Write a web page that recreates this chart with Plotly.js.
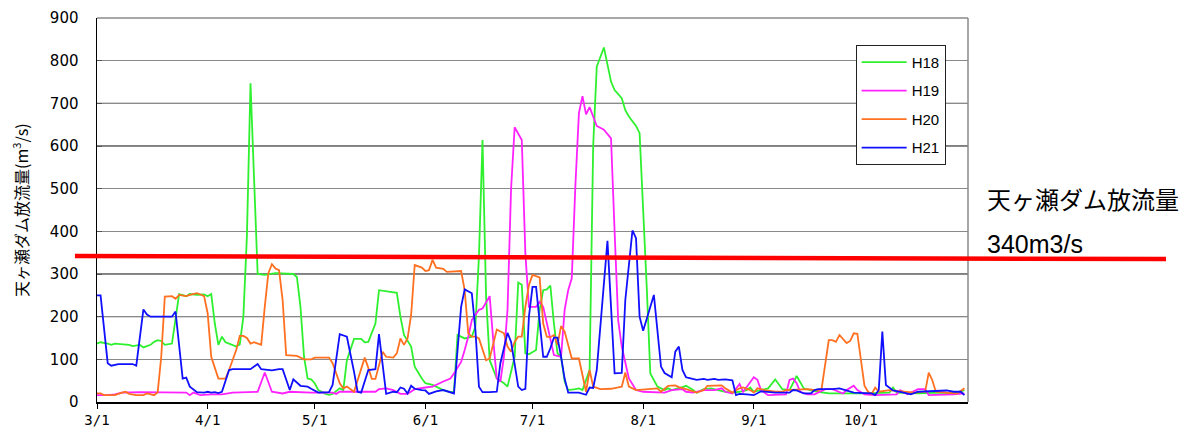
<!DOCTYPE html>
<html><head><meta charset="utf-8">
<script src="https://cdn.plot.ly/plotly-3.0.1.min.js"></script>
<style>html,body{margin:0;padding:0;background:#fff}#chart{width:1194px;height:437px}</style>
</head><body><div id="chart"></div>
<script>
const YEAR = 2006;
const seriesNames = ["H18", "H19", "H20", "H21"];
const seriesColors = ["#2ef02e", "#ff22ff", "#ff7020", "#1010ff"];

const h18Dates = ["3/1","3/2","3/4","3/5","3/6","3/8","3/10","3/11","3/13","3/14","3/16","3/17","3/18","3/19","3/20","3/22","3/23","3/24","3/26","3/27","3/29","3/31","4/1","4/2","4/3","4/4","4/5","4/6","4/7","4/9","4/10","4/11","4/12","4/13","4/15","4/17","4/20","4/25","4/26","4/27","4/28","4/29","4/30","5/1","5/2","5/4","5/5","5/6","5/8","5/9","5/10","5/11","5/12","5/14","5/15","5/16","5/18","5/19","5/21","5/24","5/25","5/26","5/28","5/29","5/31","6/1","6/3","6/5","6/6","6/8","6/9","6/10","6/11","6/12","6/14","6/15","6/16","6/17","6/18","6/19","6/21","6/23","6/24","6/26","6/27","6/28","6/29","6/30","7/2","7/3","7/4","7/5","7/6","7/7","7/8","7/9","7/10","7/11","7/13","7/14","7/15","7/16","7/17","7/18","7/19","7/21","7/23","7/24","7/26","7/27","7/28","7/30","7/31","8/2","8/3","8/5","8/7","8/8","8/9","8/12","8/13","8/15","8/16","8/18","8/20","8/22","8/24","8/26","8/28","8/30","8/31","9/1","9/3","9/5","9/7","9/9","9/11","9/12","9/13","9/15","9/17","9/19","9/22","10/2","10/9","10/10","10/11","10/17","10/23","10/27","10/30"];
const h18Values = [137,140,137,134,137,135,134,131,134,128,134,141,145,143,134,137,200,253,248,253,251,252,248,253,184,134,153,140,137,130,135,200,390,747,300,298,302,300,293,223,106,55,53,44,28,19,17,19,32,28,98,126,148,148,140,141,184,262,260,256,200,157,130,83,55,44,40,32,28,23,24,157,153,149,153,177,341,614,247,98,55,44,36,106,280,275,114,112,122,216,262,264,273,184,114,106,48,28,30,32,28,52,75,600,786,831,751,731,712,684,669,647,630,270,67,36,28,32,28,35,38,28,22,30,32,28,24,22,24,28,34,24,28,32,53,30,28,44,61,32,27,24,20,20,22,34,22,20,22,20,28];

const h19Dates = ["3/1","3/4","3/6","3/8","3/13","3/21","3/26","3/27","3/28","3/30","4/2","4/5","4/8","4/15","4/17","4/19","4/22","4/24","4/30","5/6","5/7","5/8","5/18","5/19","5/21","5/23","5/25","5/27","5/29","6/1","6/3","6/6","6/8","6/9","6/11","6/12","6/13","6/14","6/16","6/17","6/19","6/20","6/21","6/22","6/23","6/24","6/25","6/26","6/28","6/29","6/30","7/2","7/3","7/4","7/5","7/6","7/7","7/9","7/10","7/11","7/12","7/13","7/14","7/15","7/16","7/17","7/18","7/19","7/21","7/23","7/24","7/25","7/26","7/28","7/30","8/1","8/7","8/9","8/12","8/13","8/15","8/18","8/21","8/23","8/24","8/26","8/28","8/29","8/30","9/1","9/2","9/3","9/5","9/10","9/11","9/12","9/13","9/14","9/16","9/18","9/21","9/23","9/26","9/27","9/29","9/30","10/2","10/5","10/11","10/12","10/14","10/17","10/19","10/20","10/27","10/30"];
const h19Values = [16,16,18,22,23,23,22,16,22,16,18,18,22,24,69,24,20,24,22,22,19,24,24,30,32,28,19,19,30,34,36,48,55,67,94,122,153,192,216,219,248,145,55,48,106,216,500,644,614,348,223,223,235,223,184,153,110,106,216,262,290,505,677,717,674,691,669,647,638,618,400,192,130,55,28,24,22,28,30,24,22,28,28,32,24,20,42,24,35,58,52,28,16,18,52,55,44,24,18,18,30,30,20,28,38,28,18,16,18,28,18,30,30,16,18,20];

const h20Dates = ["3/1","3/2","3/3","3/6","3/8","3/9","3/10","3/12","3/14","3/15","3/17","3/18","3/19","3/20","3/22","3/23","3/24","3/26","3/27","3/29","3/30","3/31","4/1","4/2","4/4","4/6","4/7","4/9","4/10","4/11","4/12","4/13","4/14","4/16","4/17","4/18","4/19","4/20","4/21","4/22","4/23","4/25","4/26","4/28","4/30","5/1","5/5","5/6","5/8","5/9","5/10","5/12","5/13","5/15","5/16","5/17","5/18","5/19","5/20","5/21","5/23","5/24","5/25","5/26","5/27","5/28","5/29","5/31","6/1","6/2","6/3","6/4","6/6","6/7","6/10","6/11","6/12","6/13","6/14","6/15","6/16","6/17","6/18","6/19","6/20","6/21","6/23","6/24","6/25","6/26","6/27","6/28","6/29","6/30","7/1","7/2","7/3","7/4","7/5","7/6","7/7","7/8","7/9","7/10","7/11","7/12","7/14","7/15","7/16","7/17","7/18","7/20","7/23","7/25","7/26","7/27","7/28","7/30","8/3","8/5","8/6","8/8","8/10","8/11","8/13","8/14","8/16","8/18","8/19","8/23","8/24","8/26","8/27","8/28","8/29","8/31","9/1","9/2","9/4","9/7","9/9","9/10","9/16","9/19","9/20","9/22","9/23","9/24","9/25","9/27","9/28","9/29","9/30","10/1","10/2","10/3","10/4","10/5","10/6","10/9","10/13","10/16","10/19","10/20","10/21","10/22","10/25","10/28","10/30"];
const h20Values = [20,20,16,16,22,24,19,16,16,20,16,23,106,247,248,242,251,248,251,255,252,248,208,106,55,55,75,122,155,155,150,137,140,134,223,302,323,313,309,239,110,108,108,100,100,104,104,91,44,32,36,24,50,104,80,54,54,83,118,106,104,114,149,134,149,204,321,315,307,309,333,315,312,305,307,307,262,161,153,153,149,126,98,102,137,170,161,130,118,141,153,153,223,274,298,295,292,184,153,152,157,134,178,165,134,102,102,59,24,75,36,30,31,34,36,69,36,28,30,32,24,38,39,35,30,27,22,28,38,39,32,22,27,32,34,28,22,32,28,24,24,28,30,27,32,145,145,141,157,138,143,161,160,98,38,24,19,34,24,28,24,22,24,69,51,24,22,20,32];

const h21Dates = ["3/1","3/2","3/4","3/5","3/7","3/11","3/12","3/14","3/15","3/16","3/22","3/23","3/25","3/26","3/27","3/29","3/31","4/1","4/2","4/3","4/4","4/5","4/7","4/8","4/13","4/15","4/16","4/19","4/21","4/22","4/24","4/25","4/27","4/29","4/30","5/2","5/5","5/6","5/8","5/10","5/12","5/13","5/14","5/16","5/18","5/19","5/21","5/23","5/24","5/25","5/26","5/27","5/28","5/29","5/31","6/1","6/2","6/4","6/6","6/7","6/9","6/11","6/12","6/14","6/15","6/16","6/17","6/19","6/21","6/22","6/24","6/25","6/27","6/28","6/29","6/30","7/1","7/2","7/4","7/5","7/6","7/7","7/8","7/9","7/10","7/11","7/14","7/16","7/17","7/18","7/19","7/20","7/22","7/23","7/24","7/26","7/27","7/29","7/30","7/31","8/1","8/4","8/5","8/6","8/7","8/9","8/10","8/11","8/12","8/13","8/14","8/16","8/18","8/19","8/21","8/22","8/24","8/25","8/26","8/27","8/28","8/30","9/1","9/3","9/7","9/11","9/12","9/13","9/15","9/17","9/18","9/19","9/23","9/25","9/27","9/29","10/4","10/5","10/6","10/7","10/8","10/10","10/12","10/15","10/17","10/25","10/27","10/29","10/30"];
const h21Values = [250,250,91,85,89,89,85,217,205,200,200,212,55,57,36,23,22,24,22,23,21,24,75,77,77,89,77,74,77,77,28,53,38,36,31,22,23,40,159,153,71,24,22,75,77,159,19,24,23,34,31,20,38,31,28,27,19,25,28,25,20,223,264,255,169,36,23,23,24,91,162,141,36,28,31,200,270,270,106,106,126,151,151,106,55,22,22,17,34,33,75,176,378,223,67,68,239,402,384,200,167,251,173,83,68,58,118,130,75,58,56,52,54,52,54,52,53,52,51,16,19,18,16,25,22,22,28,27,20,20,28,30,30,32,27,22,20,16,28,165,40,27,24,18,24,27,24,24,16];

const yTickValues = [0,100,200,300,400,500,600,700,800,900];
const yAxisTitle = "天ヶ瀬ダム放流量(m<sup>3</sup>/s)";
const damLabel = "天ヶ瀬ダム放流量";
const thresholdLabel = "340m3/s";
const thresholdValue = 340;

function toISO(md) {
  const p = md.split("/").map(Number);
  return YEAR + "-" + String(p[0]).padStart(2, "0") + "-" + String(p[1]).padStart(2, "0");
}

const allDates = [h18Dates, h19Dates, h20Dates, h21Dates];
const allValues = [h18Values, h19Values, h20Values, h21Values];

const traces = seriesNames.map((name, i) => ({
  type: "scatter",
  mode: "lines",
  name: name,
  legendgroup: name,
  x: allDates[i].map(toISO),
  y: allValues[i],
  line: { color: seriesColors[i], width: 1.8 },
  hoverinfo: "x+y+name"
}));

const darkGrid = [200, 300, 600, 700].map(v => ({
  type: "line", xref: "paper", yref: "y", x0: 0, x1: 1, y0: v, y1: v,
  line: { color: "#000", width: 1 }, layer: "between"
}));

const layout = {
  width: 1194, height: 437,
  margin: { l: 97, r: 226, t: 18, b: 35, pad: 0 },
  paper_bgcolor: "#fff", plot_bgcolor: "#fff",
  showlegend: true,
  xaxis: {
    type: "date",
    range: [YEAR + "-03-01", YEAR + "-10-31"],
    tick0: YEAR + "-03-01", dtick: "M1", tickformat: "%-m/%-d",
    ticks: "outside", ticklen: 5, tickcolor: "#000", tickwidth: 1,
    showline: true, linecolor: "#000", linewidth: 1.5,
    showgrid: false, zeroline: false,
    tickfont: { family: "DejaVu Sans Mono", size: 14, color: "#000" }
  },
  yaxis: {
    range: [0, 900], tickvals: yTickValues, ticktext: yTickValues.map(String),
    ticks: "inside", ticklen: 5, tickcolor: "#555",
    showline: true, linecolor: "#000", linewidth: 1.5,
    showgrid: true, gridcolor: "#8a8a8a", gridwidth: 1, zeroline: false,
    ticklabelstandoff: 14,
    tickfont: { family: "DejaVu Sans", size: 15, color: "#000" }
  },
  legend: {
    x: 0.871, y: 0.93, xanchor: "left", yanchor: "top",
    bgcolor: "#fff", bordercolor: "#222", borderwidth: 1,
    traceorder: "grouped", tracegroupgap: 6, itemwidth: 45,
    font: { family: "Liberation Sans", size: 15, color: "#000" }
  },
  shapes: darkGrid.concat([
    { type: "line", xref: "paper", yref: "paper", x0: 1, x1: 1, y0: 0, y1: 1, line: { color: "#8a8a8a", width: 1.5 }, layer: "between" },
    { type: "line", xref: "paper", yref: "paper", x0: 0, x1: 1, y0: 1, y1: 1, line: { color: "#8a8a8a", width: 1.5 }, layer: "between" },
    { type: "line", xref: "paper", yref: "y", x0: -0.0253, x1: 1.2273, y0: thresholdValue + 2, y1: thresholdValue - 5, line: { color: "#ff0000", width: 4.5 }, layer: "above" }
  ]),
  annotations: [
    { xref: "paper", yref: "paper", x: 1.019, y: 0.529, xanchor: "left", yanchor: "middle", showarrow: false,
      text: damLabel, font: { family: "Noto Sans CJK JP", size: 24, color: "#000" } },
    { xref: "paper", yref: "paper", x: 1.019, y: 0.411, xanchor: "left", yanchor: "middle", showarrow: false,
      text: thresholdLabel, font: { family: "Liberation Sans", size: 25, color: "#000" } },
    { xref: "paper", yref: "paper", x: -0.0884, y: 0.5, xanchor: "center", yanchor: "middle", showarrow: false,
      textangle: -90, text: yAxisTitle, font: { family: "Noto Sans CJK JP", size: 16, color: "#000" } }
  ]
};

Plotly.newPlot("chart", traces, layout, { displayModeBar: false, staticPlot: true });
</script>
</body></html>
